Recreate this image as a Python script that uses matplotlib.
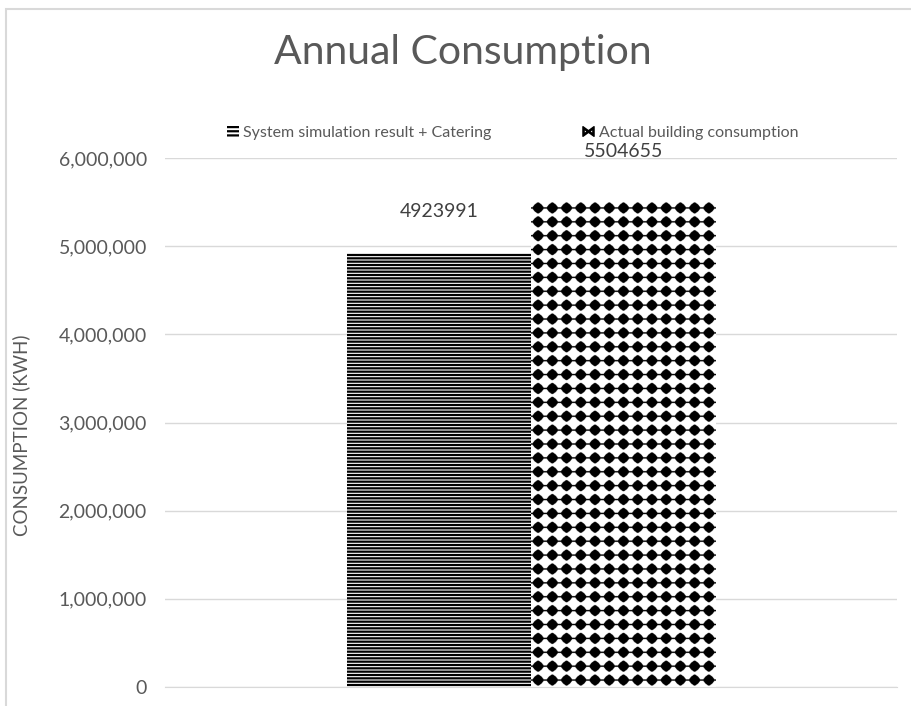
import numpy as np
import matplotlib
matplotlib.use("Agg")
import matplotlib.pyplot as plt
from matplotlib.patches import Rectangle, Patch
from matplotlib.lines import Line2D
from matplotlib.ticker import FuncFormatter

# chart data
series = ["System simulation result + Catering", "Actual building consumption"]
values = [4923991, 5504655]
yticks = [0, 1000000, 2000000, 3000000, 4000000, 5000000, 6000000]

plt.rcParams['font.family'] = ['Lato', 'DejaVu Sans']
grey = '#595959'

fig = plt.figure(figsize=(9.11, 7.06), dpi=100)
ax = fig.add_axes([0.181, 0.027, 0.804, 0.749])

# chart border (cut off at right and bottom like the screenshot)
fig.patches.append(Rectangle((5.5 / 911, -0.1), 1.2, 1.1 - 8.5 / 706,
                             transform=fig.transFigure, fill=False,
                             edgecolor='#d9d9d9', linewidth=1.5))

w = 0.252
xs = [-w / 2, w / 2]

plt.rcParams['hatch.linewidth'] = 1.6
b1 = ax.bar(xs[0], values[0], width=w, facecolor='white', edgecolor='black',
            linewidth=0, hatch='-----', zorder=2)
b2 = ax.bar(xs[1], values[1], width=w, facecolor='white', linewidth=0, zorder=2)

# diamond texture for the second bar (one tile = one ~14 px cell)
n = 40
u = (np.arange(n) + 0.5) / n - 0.5
dx, dy = np.meshgrid(np.abs(u), np.abs(u))
p = 1.3
tile = (dx ** p + dy ** p) ** (1 / p) <= 0.41
tile = tile | ((dy < 0.045) & (dx <= 0.5))
tile = tile.astype(float)
bar = b2.patches[0]
ncols = 13
nrows = int(round(values[1] / (6000000 / 529.0) / 14.0))
tex = np.tile(tile, (nrows, ncols))
im = ax.imshow(1 - tex, cmap='gray', vmin=0, vmax=1, interpolation='antialiased',
               extent=(bar.get_x(), bar.get_x() + bar.get_width(), 0, values[1]),
               aspect='auto', zorder=2.5)
im.set_clip_path(bar)

ax.set_xlim(-0.5, 0.5)
ax.set_ylim(0, 6000000)
ax.set_yticks(yticks)
ax.yaxis.set_major_formatter(FuncFormatter(lambda v, p: f'{int(v):,}'))
ax.set_xticks([])
ax.grid(axis='y', color='#d9d9d9', linewidth=1, zorder=0)
ax.set_axisbelow(True)
for s in ['top', 'right', 'left']:
    ax.spines[s].set_visible(False)
ax.spines['bottom'].set_color('#d9d9d9')
ax.tick_params(axis='y', length=0, pad=13, labelsize=14, labelcolor=grey)
ax.set_ylabel('CONSUMPTION (KWH)', fontsize=13.5, color=grey)
ax.yaxis.set_label_coords(-0.1844, 0.476)

label_gap = [30, 36]  # points above bar top
for x, v, g in zip(xs, values, label_gap):
    ax.annotate(str(v), (x, v), xytext=(0, g), textcoords='offset points',
                ha='center', va='center', fontsize=14, color='#404040')

fig.text(0.508, 0.926, 'Annual Consumption', ha='center', va='center',
         fontsize=29.5, color=grey)

handles = [Patch(facecolor='white', edgecolor='black', linewidth=0, hatch='----'),
           Line2D([], [], marker=r'$\bowtie$', color='black', linestyle='None',
                  markersize=8)]
fig.legend(handles, series, loc='center', bbox_to_anchor=(0.563, 0.812), ncol=2,
           frameon=False, fontsize=11.5, labelcolor=grey, handlelength=0.7,
           handleheight=0.7, handletextpad=0.3, columnspacing=5.7)

fig.savefig('out.png', dpi=100)
